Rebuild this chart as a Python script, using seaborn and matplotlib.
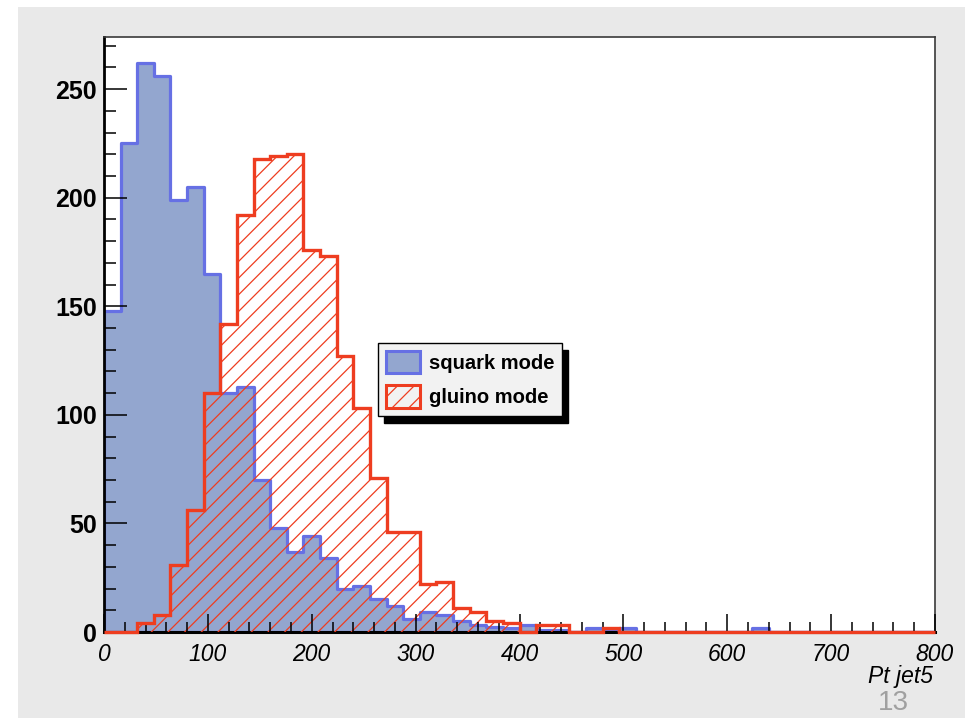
import numpy as np
import pandas as pd
import matplotlib
matplotlib.use("Agg")
import matplotlib.pyplot as plt
from matplotlib.patches import Patch, Rectangle
from matplotlib.ticker import MultipleLocator
import seaborn as sns

# ---- data (50 bins of width 16 on 0..800) ----
bin_edges = list(range(0, 801, 16))
squark_mode = [148, 225, 262, 256, 199, 205, 165, 110, 113, 70,
               48, 37, 44, 34, 20, 21, 15, 12, 6, 9,
               8, 5, 3, 2.5, 2, 3, 1, 1, 0, 2,
               1, 2, 0, 0, 0, 0, 0, 0, 0, 2,
               0, 0, 0, 0, 0, 0, 0, 0, 0, 0]
gluino_mode = [0, 0, 4, 8, 31, 56, 110, 142, 192, 218,
               219, 220, 176, 173, 127, 103, 71, 46, 46, 22,
               23, 11, 9, 5, 4, 0, 3, 3, 0, 0,
               2, 0, 0, 0, 0, 0, 0, 0, 0, 0,
               0, 0, 0, 0, 0, 0, 0, 0, 0, 0]
legend_labels = ["squark mode", "gluino mode"]
x_ticks = [0, 100, 200, 300, 400, 500, 600, 700, 800]
y_ticks = [0, 50, 100, 150, 200, 250]
x_title = "Pt jet5"
page_number = "13"

BLUE_FILL = "#93a6cf"
BLUE_EDGE = "#6670e4"
RED = "#ee3d20"
BG = "#e9e9e9"

edges = np.array(bin_edges, dtype=float)
df = pd.DataFrame({"pt": (edges[:-1] + edges[1:]) / 2,
                   "squark": squark_mode, "gluino": gluino_mode})

plt.rcParams["font.family"] = ["Liberation Sans", "DejaVu Sans"]
plt.rcParams["hatch.color"] = RED
plt.rcParams["hatch.linewidth"] = 0.9

fig = plt.figure(figsize=(9.65, 7.18), dpi=100, facecolor="white")
fig.add_artist(Rectangle((18 / 965, 0), 1 - 18 / 965, 1 - 7 / 718,
                         transform=fig.transFigure, facecolor=BG,
                         edgecolor="none", zorder=-10))
ax = fig.add_axes([104 / 965, 1 - 632 / 718, (935 - 104) / 965, (632 - 37) / 718])
ax.set_zorder(1)
ax.set_facecolor("white")

# squark: filled histogram
sns.histplot(data=df, x="pt", weights="squark", bins=bin_edges, element="step",
             fill=True, ax=ax, color=BLUE_FILL, edgecolor=BLUE_EDGE,
             linewidth=2.3, alpha=1, zorder=1)
# gluino: hatched fill
n_before = len(ax.collections)
sns.histplot(data=df, x="pt", weights="gluino", bins=bin_edges, element="step",
             fill=True, ax=ax, color=RED, linewidth=0, alpha=1, zorder=2.2)
for coll in ax.collections[n_before:]:
    coll.set_facecolor("none")
    coll.set_edgecolor(RED)
    coll.set_linewidth(0)
    coll.set_hatch("//")
# gluino outline (step line at every bin height, zero bins included)
ax.stairs(gluino_mode, edges, color=RED, linewidth=2.4, zorder=3, clip_on=False)

ax.set_xlim(0, 800)
ax.set_ylim(0, 274)
ax.set_xticks(x_ticks)
ax.set_yticks(y_ticks)
ax.xaxis.set_minor_locator(MultipleLocator(20))
ax.yaxis.set_minor_locator(MultipleLocator(10))
ax.set_ylabel("")
ax.set_xlabel("")

ax.tick_params(axis="y", which="major", direction="in", length=16.5, width=1.1,
               pad=5, labelsize=18)
ax.tick_params(axis="y", which="minor", direction="in", length=8.5, width=1.1)
ax.tick_params(axis="x", which="major", direction="in", length=13, width=1.1,
               pad=8, labelsize=16.5)
ax.tick_params(axis="x", which="minor", direction="in", length=7, width=1.1)
for lab in ax.get_yticklabels():
    lab.set_fontweight("bold")
for lab in ax.get_xticklabels():
    lab.set_fontstyle("italic")

for side in ["top", "right"]:
    ax.spines[side].set_color("#3a3a3a")
    ax.spines[side].set_linewidth(1.2)
ax.spines["left"].set_color("black")
ax.spines["left"].set_linewidth(2.0)
ax.spines["bottom"].set_color("black")
ax.spines["bottom"].set_linewidth(2.2)
for sp in ax.spines.values():
    sp.set_zorder(2)
ax.set_axisbelow(False)

ax.text(1.0 - 2 / 831, -45 / 595, x_title, transform=ax.transAxes, ha="right",
        va="center", fontsize=16.5, fontstyle="italic")
fig.text(893 / 965, 1 - 703 / 718, page_number, ha="center", va="center",
         fontsize=20, color="#a0a0a0")

handles = [Patch(facecolor=BLUE_FILL, edgecolor=BLUE_EDGE, linewidth=2.2),
           Patch(facecolor="none", edgecolor=RED, hatch="//", linewidth=2.2)]
leg = ax.legend(handles, legend_labels, loc="upper left",
                bbox_to_anchor=((378 - 104) / 831, 1 - (343 - 37) / 595),
                borderaxespad=0, prop={"weight": "bold", "size": 14.5},
                handlelength=1.7, handleheight=1.35, handletextpad=0.45,
                labelspacing=0.6, borderpad=0.38, fancybox=False,
                framealpha=1, facecolor="#f2f2f2", edgecolor="black",
                shadow={"ox": 4, "oy": -5, "facecolor": "black",
                        "edgecolor": "black", "alpha": 1})
leg.get_frame().set_linewidth(1.0)
leg.set_zorder(5)

fig.savefig("out.png", dpi=100, facecolor="white")
